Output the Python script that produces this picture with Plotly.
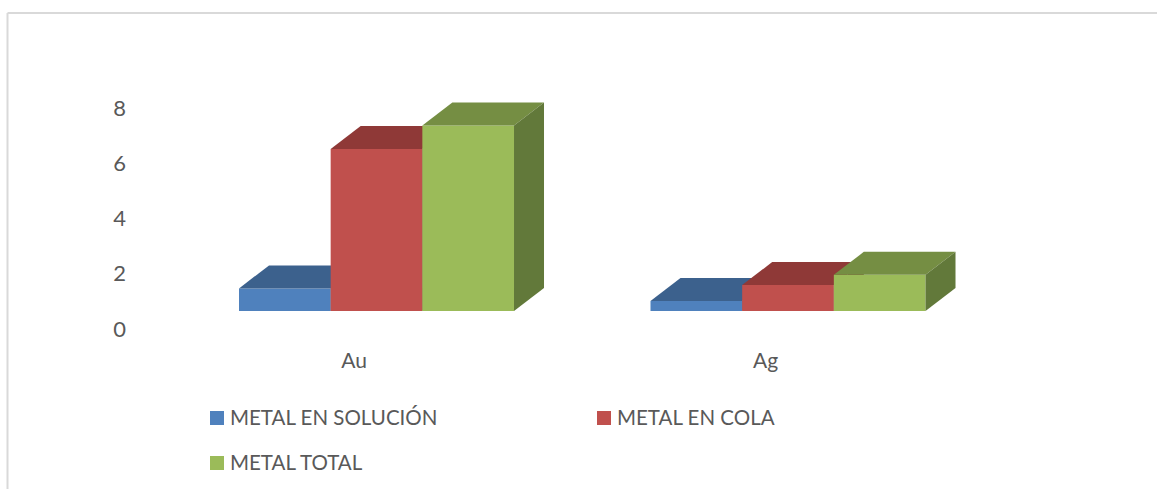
import plotly.graph_objects as go

# Data
categories = ["Au", "Ag"]
series_names = ["METAL EN SOLUCIÓN", "METAL EN COLA", "METAL TOTAL"]
metal_en_solucion = [1.47, 1.01]
metal_en_cola = [6.52, 1.59]
metal_total = [7.37, 1.96]
y_ticks = [0, 2, 4, 6, 8]

series_values = [metal_en_solucion, metal_en_cola, metal_total]
front_colors = ["#4F81BD", "#C0504D", "#9BBB59"]
top_colors = ["#3C618D", "#8F3937", "#758E43"]
side_colors = ["#3A5A82", "#7F3230", "#62793A"]

# Geometry of the pseudo-3D projection, in axis units
W, H = 1157, 489
L, R, T, B = 135, 157, 90, 160
PX_PER_X = 411.5
PX_PER_Y = 27.625
FLOOR = 18 / PX_PER_Y
SHIFT = 22.5 / PX_PER_X
BAR_W = 91.67 / PX_PER_X
DX = 30 / PX_PER_X
DY = 23 / PX_PER_Y
TEXT = "#595959"
FONT = "Lato, sans-serif"

# Legend placement, in page pixels: left of swatch, centre of row
legend_left = [210, 597, 210]
legend_mid = [418, 418, 463]
SWATCH = 14
TEXT_GAP = 5
TEXT_LIFT = 1.5

fig = go.Figure()
xs = list(range(len(categories)))

for i, (name, values) in enumerate(zip(series_names, series_values)):
    fig.add_trace(go.Bar(
        name=name, x=[x + SHIFT for x in xs], y=[v - FLOOR for v in values],
        base=FLOOR, width=BAR_W, offset=(i - 1.5) * BAR_W,
        marker=dict(color=front_colors[i], line=dict(width=0)),
        zorder=i, hoverinfo="skip", showlegend=False,
    ))
    for x, v in zip(xs, values):
        left = x + SHIFT + (i - 1.5) * BAR_W
        right = left + BAR_W
        fig.add_trace(go.Scatter(
            x=[left, right, right + DX, left + DX, left],
            y=[v, v, v + DY, v + DY, v],
            mode="lines", line=dict(width=0), fill="toself",
            fillcolor=top_colors[i], showlegend=False, hoverinfo="skip", zorder=i,
        ))
        fig.add_trace(go.Scatter(
            x=[right, right + DX, right + DX, right, right],
            y=[FLOOR, FLOOR + DY, v + DY, v, FLOOR],
            mode="lines", line=dict(width=0), fill="toself",
            fillcolor=side_colors[i], showlegend=False, hoverinfo="skip", zorder=i,
        ))

plot_w = W - L - R
plot_h = H - T - B
x_lo = (L - 354) / PX_PER_X
y_hi = plot_h / PX_PER_Y


def px(x):
    return (x - L) / plot_w


def py(y):
    return 1 - (y - T) / plot_h


shapes = [
    dict(type="line", xref="paper", yref="paper", x0=px(7.5), x1=px(W), y0=py(13), y1=py(13),
         line=dict(color="#D9D9D9", width=2)),
    dict(type="line", xref="paper", yref="paper", x0=px(7.5), x1=px(7.5), y0=py(13), y1=py(H),
         line=dict(color="#D9D9D9", width=2)),
]
annotations = []
for i, name in enumerate(series_names):
    xl, ym = legend_left[i], legend_mid[i]
    shapes.append(dict(type="rect", xref="paper", yref="paper",
                       x0=px(xl), x1=px(xl + SWATCH),
                       y0=py(ym - SWATCH / 2), y1=py(ym + SWATCH / 2),
                       fillcolor=front_colors[i], line=dict(width=0)))
    annotations.append(dict(text=name, xref="paper", yref="paper", showarrow=False,
                            x=px(xl + SWATCH + TEXT_GAP), y=py(ym - TEXT_LIFT), xanchor="left", yanchor="middle",
                            borderpad=0, font=dict(family=FONT, size=20.5, color=TEXT)))

fig.update_layout(
    width=W, height=H, autosize=False,
    margin=dict(l=L, r=R, t=T, b=B, pad=0),
    paper_bgcolor="white", plot_bgcolor="white",
    font=dict(family=FONT, color=TEXT, size=19),
    barmode="overlay", showlegend=False,
    xaxis=dict(range=[x_lo, x_lo + plot_w / PX_PER_X], tickvals=xs, ticktext=categories,
               showgrid=False, zeroline=False, showline=False, ticks="",
               ticklabelstandoff=17, tickfont=dict(size=21)),
    yaxis=dict(range=[0, y_hi], tickvals=y_ticks, showgrid=False, zeroline=False,
               showline=False, ticks="", ticklabelstandoff=8, tickfont=dict(size=22)),
    shapes=shapes, annotations=annotations,
)

fig.write_html("out.html", config={"displayModeBar": False},
               post_script="document.body.style.margin='0';document.body.style.overflow='hidden';")
